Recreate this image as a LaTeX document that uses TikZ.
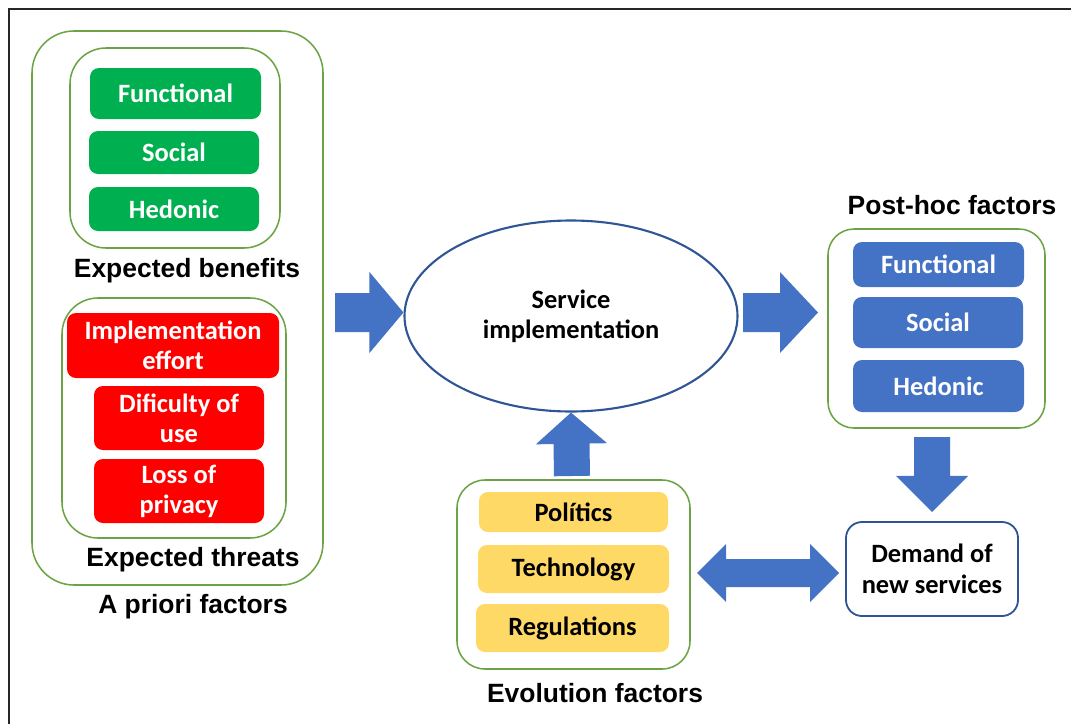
\documentclass[tikz,border=0pt]{standalone}
\usepackage{fontspec}
\usetikzlibrary{calc,shapes.geometric}
\newfontfamily\carlito{Carlito}
\newfontfamily\arialbd{Liberation Sans}
\definecolor{outline}{HTML}{6CA445}
\definecolor{bengreen}{HTML}{00B050}
\definecolor{threatred}{HTML}{FF0000}
\definecolor{facblue}{HTML}{4472C4}
\definecolor{evoyellow}{HTML}{FFD966}
\definecolor{rimblue}{HTML}{2F5597}
\newdimen\pxu \pxu=0.025cm
% block arrow: from, to, shaft half width, head half width, head length
\newcommand\blockarrow[5]{%
  \coordinate (ah) at ($(#2)!#5!(#1)$);
  \fill[facblue] ($(#1)!#3!90:(#2)$) -- ($(ah)!#3!-90:(#1)$) -- ($(ah)!#4!-90:(#1)$)
    -- (#2) -- ($(ah)!#4!90:(#1)$) -- ($(ah)!#3!90:(#1)$) -- ($(#1)!#3!-90:(#2)$) -- cycle;}
% same with a head at both ends
\newcommand\twinarrow[5]{%
  \coordinate (ah) at ($(#2)!#5!(#1)$);
  \coordinate (at) at ($(#1)!#5!(#2)$);
  \fill[facblue] (#1) -- ($(at)!#4!90:(#2)$) -- ($(at)!#3!90:(#2)$) -- ($(ah)!#3!-90:(#1)$)
    -- ($(ah)!#4!-90:(#1)$) -- (#2) -- ($(ah)!#4!90:(#1)$) -- ($(ah)!#3!90:(#1)$)
    -- ($(at)!#3!-90:(#2)$) -- ($(at)!#4!-90:(#2)$) -- cycle;}
\tikzset{
  sz/.style 2 args={minimum width=#1\pxu, minimum height=#2\pxu},
  grp/.style={draw=outline, line width=1.1pt, rounded corners=#1\pxu, inner sep=0pt},
  item/.style={rounded corners=9\pxu, inner sep=0pt, align=center,
    font=\carlito\bfseries\fontsize{18.8}{21.3}\selectfont},
  benefit/.style={item, fill=bengreen, text=white},
  threat/.style={item, fill=threatred, text=white},
  posthoc/.style={item, fill=facblue, text=white},
  evo/.style={item, fill=evoyellow, text=black},
  caption/.style={font=\arialbd\bfseries\fontsize{18.8}{21}\selectfont, inner sep=0pt}
}
\begin{document}
\begin{tikzpicture}[x=0.025cm, y=-0.025cm]
\useasboundingbox (0,0) rectangle (1071,724);
\draw[line width=1.4pt, black!85] (9,724) -- (9,9) -- (1071,9);

% a priori factors
\node[grp=42, sz={291}{554}] (apriori) at (177.5,308) {};
\node[grp=36, sz={210}{200}] (benefits) at (175,148) {};
\node[benefit, sz={171}{51}] (bfun) at (175.5,93.5) {Functional};
\node[benefit, sz={170}{43}] (bsoc) at (174,152.5) {Social};
\node[benefit, sz={170}{44}] (bhed) at (174,209) {Hedonic};
\node[caption] (benlab) at (187,271) {Expected benefits};
\node[grp=36, sz={224}{240}] (threats) at (174,418) {};
\node[threat, sz={212}{65}] (teff) at (173,345.5) {Implementation\\effort};
\node[threat, sz={170}{64}] (tuse) at (179,418) {Dificulty of\\use};
\node[threat, sz={170}{64}] (tpriv) at (179,491) {Loss of\\privacy};
\node[caption] (thrlab) at (193,560) {Expected threats};
\node[caption] (aprlab) at (193,607) {A priori factors};

% service
\node[ellipse, draw=rimblue, line width=1.5pt, sz={333}{191}, inner sep=0pt, align=center,
  font=\carlito\bfseries\fontsize{18.8}{21.3}\selectfont] (service) at (571,316) {Service\\implementation};

% post-hoc factors
\node[caption] (poslab) at (952,205) {Post-hoc factors};
\node[grp=26, sz={217}{199}] (posthoc) at (936.5,328.5) {};
\node[posthoc, sz={171}{45}] (pfun) at (938.5,264.5) {Functional};
\node[posthoc, sz={170}{51}] (psoc) at (938,322.5) {Social};
\node[posthoc, sz={171}{52}] (phed) at (938.5,386) {Hedonic};

% evolution factors
\node[grp=28, sz={233}{189}] (evolution) at (573.5,574.5) {};
\node[evo, sz={189}{40}] (epol) at (573.5,512) {Polítics};
\node[evo, sz={191}{48}] (etec) at (573.5,569) {Technology};
\node[evo, sz={193}{48}] (ereg) at (572.5,628) {Regulations};
\node[caption] (evolab) at (595,693) {Evolution factors};

% demand
\node[draw=rimblue, line width=1.3pt, rounded corners=16\pxu, sz={172}{94}, inner sep=0pt,
  align=center, font=\carlito\bfseries\fontsize{18.8}{22}\selectfont] (demand) at (932,569) {Demand of\\new services};

% block arrows
\coordinate (a1) at (335,312.5);
\coordinate (a2) at (service.west |- a1);
\coordinate (b1) at (743,312.5);
\coordinate (b2) at (818,312.5);
\coordinate (c1) at (572,476);
\coordinate (c2) at (service.south);
\coordinate (d1) at (932,437);
\coordinate (d2) at (932,512);
\coordinate (e1) at (697,573);
\coordinate (e2) at (839,573);
\blockarrow{a1}{a2}{0.4875cm}{1.0125cm}{0.85cm}
\blockarrow{b1}{b2}{0.4875cm}{1.0125cm}{0.95cm}
\blockarrow{c1}{c2}{0.45cm}{0.89cm}{0.78cm}
\blockarrow{d1}{d2}{0.45cm}{0.9cm}{0.9cm}
\twinarrow{e1}{e2}{0.35cm}{0.725cm}{0.725cm}
\end{tikzpicture}
\end{document}
